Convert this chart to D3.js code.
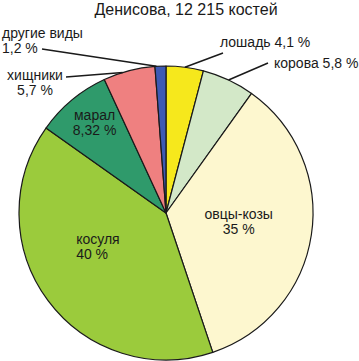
<!DOCTYPE html>
<html>
<head>
<meta charset="utf-8">
<script src="https://cdn.jsdelivr.net/npm/d3@7"></script>
<style>
  body { margin: 0; background: #fff; }
  text { font-family: "Liberation Sans", Arial, sans-serif; fill: #1a1a1a; }
</style>
</head>
<body>
<svg id="chart" width="359" height="361"></svg>
<script>
// données
const species = ["лошадь", "корова", "овцы-козы", "косуля", "марал", "хищники", "другие виды"];
const shares = [4.1, 5.8, 35, 40, 8.32, 5.7, 1.2];
const shareLabels = ["4,1 %", "5,8 %", "35 %", "40 %", "8,32 %", "5,7 %", "1,2 %"];
const colors = ["#f6e81c", "#d3e8c8", "#fdf7cf", "#9bcb3c", "#2f9a6b", "#ef8080", "#3d5ab4"];
const title = "Денисова, 12 215 костей";

const width = 359, height = 361;
const cx = 166, cy = 213, radius = 147;
const lineGap = 15;

const svg = d3.select("#chart");

svg.append("text")
    .attr("x", 186)
    .attr("y", 15)
    .attr("text-anchor", "middle")
    .style("font-size", "16px")
    .text(title);

const g = svg.append("g")
    .attr("transform", `translate(${cx},${cy})`);

const pie = d3.pie().sort(null).value(d => d);
const arcs = pie(shares);

const arc = d3.arc().innerRadius(0).outerRadius(radius);

g.selectAll("path")
    .data(arcs)
    .enter().append("path")
    .attr("d", arc)
    .attr("fill", (d, i) => colors[i])
    .attr("stroke", "#1a1a1a")
    .attr("stroke-width", 1.2)
    .attr("stroke-linejoin", "round");

// deux lignes de texte séparées
function twoLines(parent, x, y, anchor, a, b) {
  parent.append("text").attr("x", x).attr("y", y)
      .attr("text-anchor", anchor).style("font-size", "14px").text(a);
  parent.append("text").attr("x", x).attr("y", y + lineGap)
      .attr("text-anchor", anchor).style("font-size", "14px").text(b);
}

// étiquettes intérieures : rayon relatif, décalage, alignement
const inner = {
  2: { r: 0.5, dx: 0, dy: -5, anchor: "middle" },
  3: { r: 0.55, dx: -25, dy: -17, anchor: "start" },
  4: { r: 0.76, dx: 0, dy: -7, anchor: "middle" }
};
Object.keys(inner).forEach(k => {
  const i = +k, o = inner[k];
  const c = d3.arc().innerRadius(radius * o.r).outerRadius(radius * o.r).centroid(arcs[i]);
  twoLines(g, c[0] + o.dx, c[1] + o.dy, o.anchor, species[i], shareLabels[i]);
});

// étiquettes extérieures avec lignes de rappel
const outer = {
  0: { lx: 223, ly: 53, tx: 220, ty: 47, anchor: "start", one: true, a: 0 },
  1: { lx: 268, ly: 63, tx: 274, ty: 68, anchor: "start", one: true, a: 0 },
  5: { lx: 66, ly: 77, tx: 35, ty: 80, anchor: "middle", one: false, a: -0.045 },
  6: { lx: 42, ly: 49, tx: 2, ty: 38, anchor: "start", one: false, a: 0 }
};
Object.keys(outer).forEach(k => {
  const i = +k, o = outer[k];
  let ang = (arcs[i].startAngle + arcs[i].endAngle) / 2 + o.a;
  if (i === 6) ang = arcs[i].startAngle + 0.01;
  const px = cx + radius * Math.sin(ang), py = cy - radius * Math.cos(ang);
  svg.append("line")
      .attr("x1", o.lx).attr("y1", o.ly)
      .attr("x2", px).attr("y2", py)
      .attr("stroke", "#1a1a1a")
      .attr("stroke-width", 1.5);
  if (o.one) {
    svg.append("text")
        .attr("x", o.tx).attr("y", o.ty)
        .attr("text-anchor", o.anchor)
        .style("font-size", "14px")
        .text(species[i] + " " + shareLabels[i]);
  } else {
    twoLines(svg, o.tx, o.ty, o.anchor, species[i], shareLabels[i]);
  }
});
</script>
</body>
</html>
